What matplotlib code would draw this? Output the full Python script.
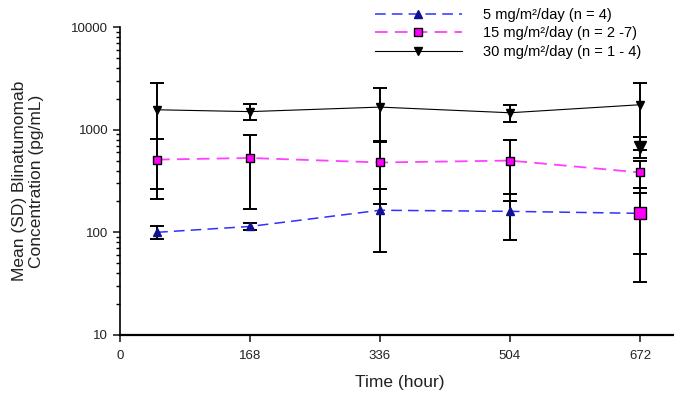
import matplotlib
matplotlib.use("Agg")
import matplotlib.pyplot as plt
from matplotlib.ticker import LogLocator, NullFormatter, FixedLocator

plt.rcParams["font.family"] = ["Liberation Sans", "DejaVu Sans"]

# time points (hour)
time_h = [48, 168, 336, 504, 672]

# 5 mg/m2/day
low_mean = [100, 114, 164, 160, 153]
low_sd = [14, 9, 100, 75, 120]

# 15 mg/m2/day
mid_mean = [511, 530, 479, 500, 383]
mid_sd = [300, 360, 290, 300, 110]

# 30 mg/m2/day
high_mean = [1563, 1500, 1660, 1462, 1750]
high_sd = [1300, 270, 900, 270, 1110]

# extra (unconnected) values at the last time point
extra_time = [672]
mid_extra_mean = [153]
mid_extra_sd = [91]
high_extra_mean = [684]
high_extra_sd = [160]

labels = ["5 mg/m²/day (n = 4)", "15 mg/m²/day (n = 2 -7)", "30 mg/m²/day (n = 1 - 4)"]
xticks = [0, 168, 336, 504, 672]
yticks = [10, 100, 1000, 10000]

fig = plt.figure(figsize=(6.74, 4.04), dpi=100)
ax = fig.add_axes([0.178, 0.171, 0.822, 0.762])

eb = dict(ecolor="black", elinewidth=1.4, capsize=5, capthick=1.4, zorder=2)

ax.errorbar(time_h, high_mean, yerr=high_sd, fmt="none", **eb)
ax.errorbar(time_h, mid_mean, yerr=mid_sd, fmt="none", **eb)
ax.errorbar(time_h, low_mean, yerr=low_sd, fmt="none", **eb)
ax.errorbar(extra_time, high_extra_mean, yerr=high_extra_sd, fmt="none", **eb)
ax.errorbar(extra_time, mid_extra_mean, yerr=mid_extra_sd, fmt="none", **eb)

l1, = ax.plot(time_h, low_mean, color="#3030ff", ls=(0, (7, 4)), lw=1.1,
              marker="^", ms=6, mfc="#101090", mec="#101090", zorder=3, label=labels[0])
l2, = ax.plot(time_h, mid_mean, color="#ff40ff", ls=(0, (7, 4)), lw=1.3,
              marker="s", ms=6, mfc="#ff00ff", mec="black", mew=1, zorder=3, label=labels[1])
l3, = ax.plot(time_h, high_mean, color="black", ls="-", lw=0.8,
              marker="v", ms=6, mfc="black", mec="black", zorder=3, label=labels[2])
ax.plot(extra_time, high_extra_mean, ls="none", marker="v", ms=8, mfc="black", mec="black", zorder=3)
ax.plot(extra_time, mid_extra_mean, ls="none", marker="s", ms=8, mfc="#ff00ff", mec="black", mew=1, zorder=4)

ax.set_yscale("log")
ax.set_ylim(10, 10000)
ax.set_xlim(0, 716)
ax.xaxis.set_major_locator(FixedLocator(xticks))
ax.set_xticklabels([str(t) for t in xticks])
ax.yaxis.set_major_locator(FixedLocator(yticks))
ax.set_yticklabels([str(t) for t in yticks])
ax.yaxis.set_minor_locator(LogLocator(base=10, subs=range(2, 10), numticks=20))
ax.yaxis.set_minor_formatter(NullFormatter())

ax.spines["top"].set_visible(False)
ax.spines["right"].set_visible(False)
ax.spines["left"].set_linewidth(1.2)
ax.spines["bottom"].set_linewidth(1.6)
ax.tick_params(axis="both", which="major", direction="out", length=5, width=1.2, labelsize=9.5, colors="#222222")
ax.tick_params(axis="y", which="minor", direction="out", length=3, width=1.0)
ax.tick_params(axis="x", pad=6)

ax.set_xlabel("Time (hour)", fontsize=12.5, color="#222222")
ax.xaxis.label.set_va("center")
ax.xaxis.set_label_coords(0.505, -0.153)
ax.set_ylabel("Mean (SD) Blinatumomab\nConcentration (pg/mL)", fontsize=12.5, color="#222222")
ax.yaxis.label.set_va("center")
ax.yaxis.set_label_coords(-0.166, 0.5)

fig.legend(handles=[l1, l2, l3], loc="upper left", bbox_to_anchor=(0.556, 0.981), frameon=False,
           fontsize=10.5, handlelength=6.0, handletextpad=1.4, labelspacing=0.33, borderpad=0,
           borderaxespad=0)

fig.savefig("out.png", dpi=100)
